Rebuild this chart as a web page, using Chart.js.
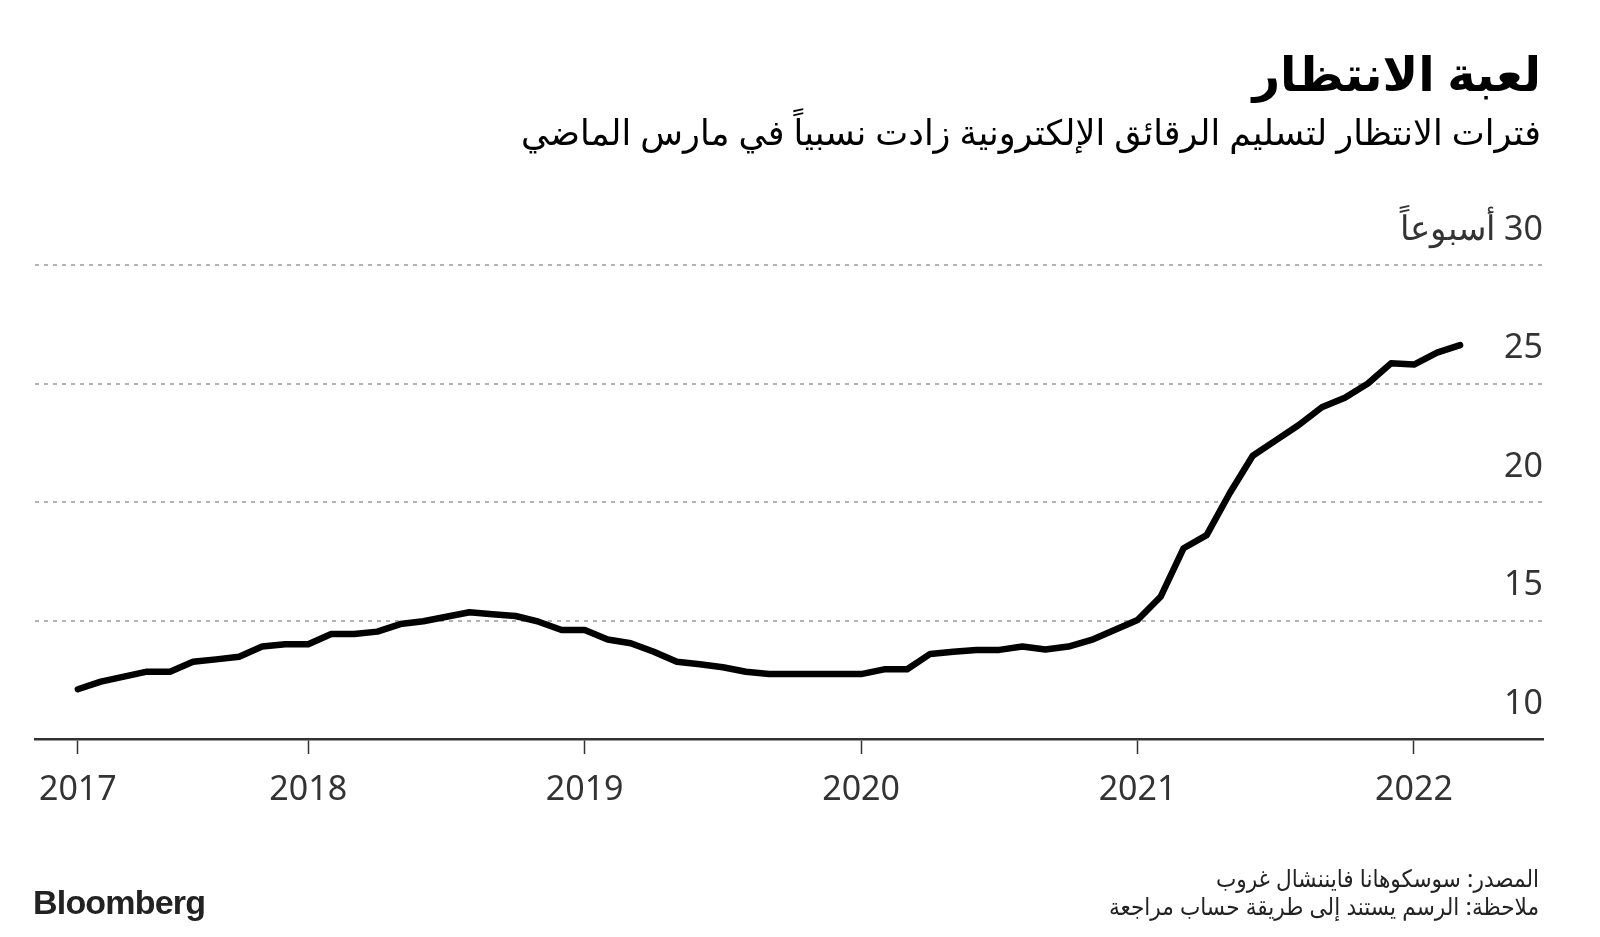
<!DOCTYPE html>
<html lang="ar">
<head>
<meta charset="utf-8">
<title>لعبة الانتظار</title>
<script src="https://cdn.jsdelivr.net/npm/chart.js@4"></script>
<style>
    html, body {
        margin: 0;
        padding: 0;
        background: #fff;
    }

    .page {
        position: relative;
        width: 1600px;
        height: 937px;
        overflow: hidden;
        font-family: "Noto Sans", "DejaVu Sans", sans-serif;
        color: #000;
    }

    .page canvas {
        position: absolute;
        left: 0;
        top: 0;
    }

    .title {
        position: absolute;
        right: 59px;
        top: 38px;
        font-size: 48px;
        font-weight: bold;
        line-height: 70px;
        white-space: nowrap;
    }

    .subtitle {
        position: absolute;
        right: 59px;
        top: 107px;
        font-size: 35px;
        line-height: 50px;
        white-space: nowrap;
    }

    .note {
        position: absolute;
        right: 61px;
        top: 864px;
        font-size: 24px;
        line-height: 28px;
        color: #222;
        white-space: nowrap;
        font-stretch: condensed;
    }

    .logo {
        position: absolute;
        left: 33px;
        top: 882px;
        font-family: "Liberation Sans", Arial, sans-serif;
        font-weight: bold;
        font-size: 34px;
        line-height: 40px;
        letter-spacing: -0.8px;
        color: #222;
    }
</style>
</head>
<body>
<div class="page">
    <canvas id="lineChart" width="1600" height="937"></canvas>
    <div class="title" dir="rtl">لعبة الانتظار</div>
    <div class="subtitle" dir="rtl">فترات الانتظار لتسليم الرقائق الإلكترونية زادت نسبياً في مارس الماضي</div>
    <div class="note" dir="rtl">
        المصدر: سوسكوهانا فايننشال غروب<br>
        ملاحظة: الرسم يستند إلى طريقة حساب مراجعة
    </div>
    <div class="logo">Bloomberg</div>
</div>

<script>
//============================================= Data =============================================//
// months counted from Jan 2017 (2 = Mar 2017), one point a month up to Mar 2022
const firstMonth = 2;
const waitWeeks = [
    12.1, 12.42, 12.63, 12.84, 12.84, 13.26, 13.36, 13.47, 13.9, 14.0,               // 2017 Mar-Dec
    14.0, 14.43, 14.43, 14.53, 14.85, 14.97, 15.16, 15.35, 15.26, 15.19, 14.95, 14.6, // 2018
    14.6, 14.2, 14.04, 13.68, 13.26, 13.15, 13.03, 12.84, 12.74, 12.74, 12.74, 12.74, // 2019
    12.74, 12.94, 12.94, 13.59, 13.68, 13.76, 13.76, 13.9, 13.78, 13.9, 14.18, 14.6,  // 2020
    15.02, 16.0, 18.05, 18.6, 20.37, 21.95, 22.6, 23.25, 24.0, 24.4, 25.0, 25.85,     // 2021
    25.8, 26.3, 26.62                                                                 // 2022 Jan-Mar
];
const yearTickMonths = [2, 12, 24, 36, 48, 60];
const yearLabels = ['2017', '2018', '2019', '2020', '2021', '2022'];
const yTicks = [10, 15, 20, 25, 30];
const unitLabel = 'أسبوعاً';

//============================================= Line chart =============================================//
const points = waitWeeks.map((v, i) => ({ x: firstMonth + i, y: v }));

const lineConfig = {
    type: 'line',
    data: {
        datasets: [{
            data: points,
            borderColor: '#000',
            borderWidth: 6.5,
            borderCapStyle: 'round',
            borderJoinStyle: 'round',
            pointRadius: 0,
            tension: 0,
        }]
    },
    options: {
        responsive: false,
        animation: false,
        layout: {
            padding: { left: 35, right: 57, top: 265, bottom: 118 }
        },
        plugins: {
            legend: { display: false },
            tooltip: { enabled: false },
        },
        scales: {
            x: {
                type: 'linear',
                min: 0.14,
                max: 65.6,
                afterFit: (scale) => { scale.height = 80; },
                afterBuildTicks: (scale) => {
                    scale.ticks = yearTickMonths.map(v => ({ value: v }));
                },
                grid: {
                    drawOnChartArea: false,
                    drawTicks: true,
                    tickLength: 15,
                    tickColor: '#333',
                    tickWidth: 1.5,
                },
                border: {
                    display: true,
                    color: '#333',
                    width: 2.5,
                },
                ticks: {
                    autoSkip: false,
                    maxRotation: 0,
                    padding: 16,
                    color: '#333',
                    font: { family: 'Noto Sans', size: 34 },
                    callback: (value) => yearLabels[yearTickMonths.indexOf(value)],
                }
            },

            y: {
                position: 'right',
                min: 10,
                max: 30,
                afterFit: (scale) => { scale.width = 0; },
                afterBuildTicks: (scale) => {
                    scale.ticks = yTicks.map(v => ({ value: v }));
                },
                grid: {
                    drawTicks: false,
                    lineWidth: 2,
                    color: (context) => context.tick && context.tick.value === 10 ? 'rgba(0,0,0,0)' : '#b3b3b3',
                },
                border: {
                    display: false,
                    dash: [4, 5],
                },
                ticks: {
                    mirror: true,
                    padding: 0,
                    labelOffset: -35,
                    color: '#333',
                    font: { family: 'Noto Sans', size: 34 },
                    // LRM keeps the number on the right of the Arabic word
                    callback: (value) => value === 30 ? unitLabel + '\u200E ' + value : value,
                }
            }
        }
    }
};

new Chart(document.getElementById('lineChart'), lineConfig);
</script>
</body>
</html>
